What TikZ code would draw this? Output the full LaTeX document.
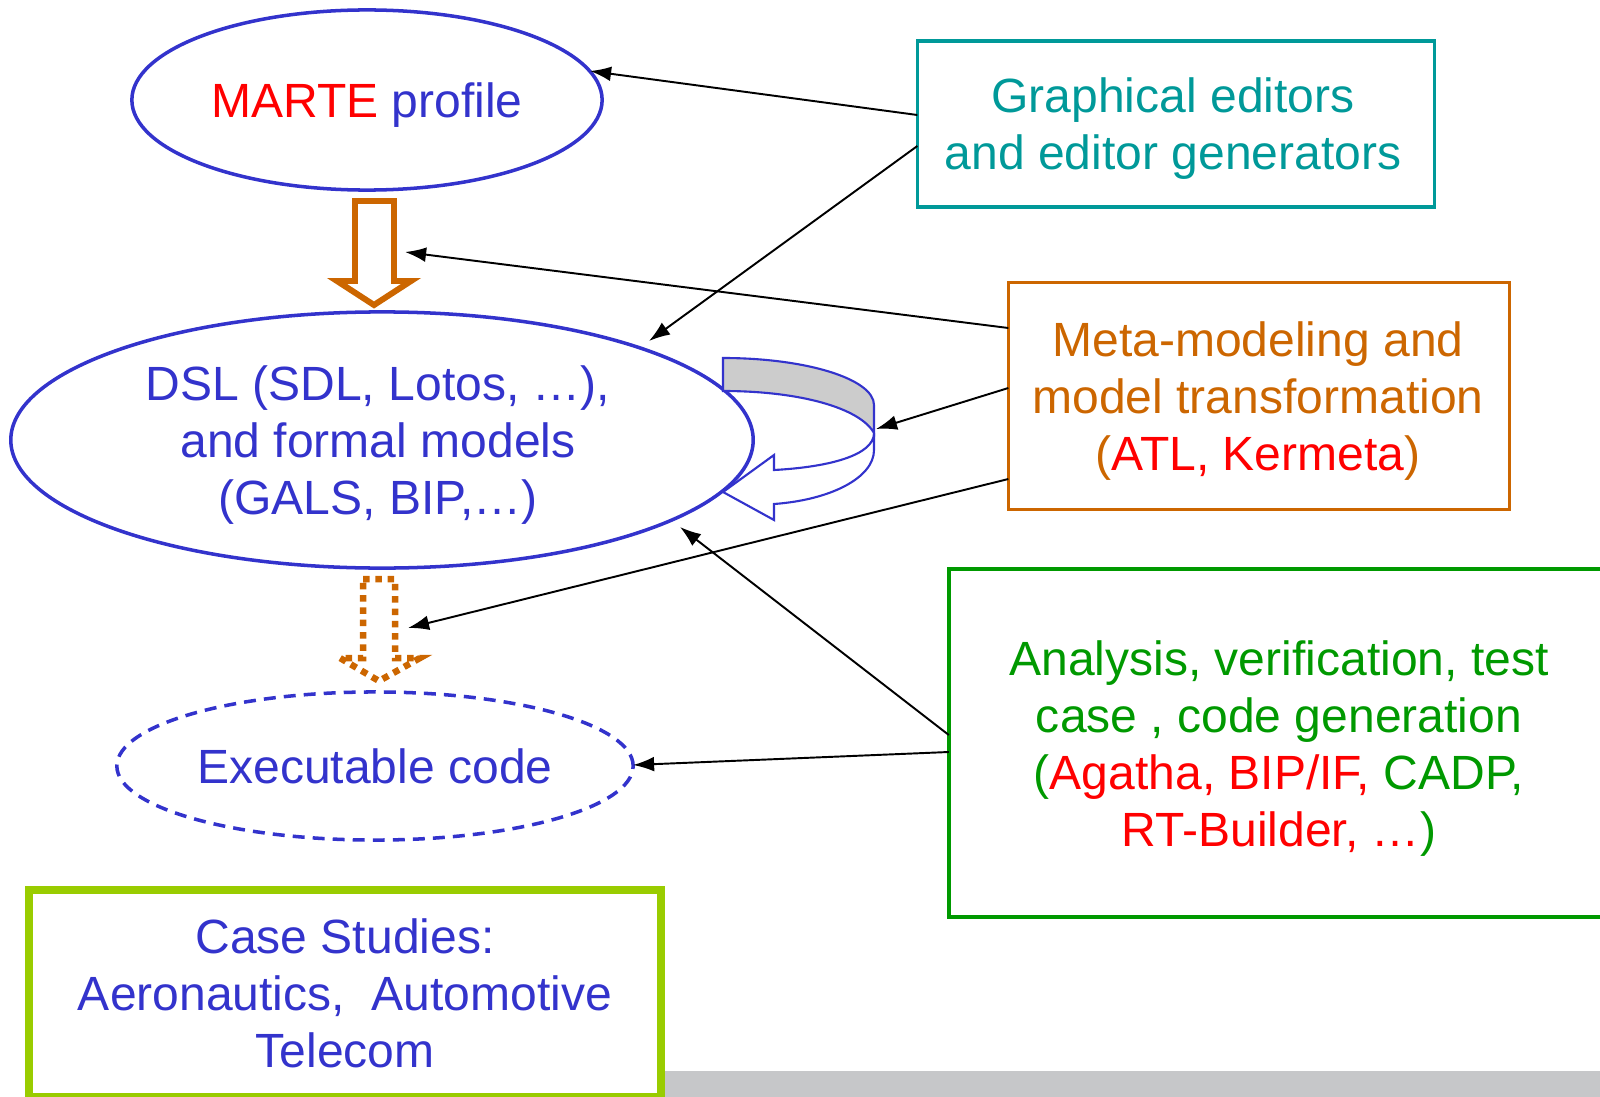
\documentclass[tikz,border=0pt]{standalone}
\usepackage{fontspec}
\setmainfont{Liberation Sans}
\usetikzlibrary{shapes.geometric,arrows.meta}
\definecolor{dslblue}{HTML}{3333CC}
\definecolor{hotred}{HTML}{FF0000}
\definecolor{tealc}{HTML}{009999}
\definecolor{rust}{HTML}{CC6600}
\definecolor{leaf}{HTML}{009900}
\definecolor{lime}{HTML}{99CC00}
\definecolor{bargrey}{HTML}{C6C7C9}
\definecolor{facegrey}{HTML}{CCCCCC}
\begin{document}
\begin{tikzpicture}[x=0.01cm,y=-0.01cm,
  txt/.style={font=\fontsize{13.66pt}{16.2pt}\selectfont, align=center, inner sep=0pt},
  oval/.style={ellipse, draw=dslblue, line width=1pt, inner sep=0pt, outer sep=0pt, txt, text=dslblue},
  frame/.style={rectangle, inner sep=0pt, outer sep=0pt, txt},
  conn/.style={draw=black, line width=0.55pt, -{Latex[length=6pt,width=4.2pt]}}]
\useasboundingbox (0,0) rectangle (1600,1097);
\clip (0,0) rectangle (1600,1097);

% footer strip
\fill[bargrey] (665,1071) rectangle (1600,1097);

% model ovals
\node[oval, minimum width=4.70cm, minimum height=1.80cm] (marte) at (367,100) {};
\node[txt, text=dslblue] (martetext) at (367,105) {\textcolor{hotred}{MARTE} profile};
\node[oval, minimum width=7.42cm, minimum height=2.56cm] (dsl) at (382,440) {};
\node[txt, text=dslblue] (dsltext) at (378,445)
  {DSL (SDL, Lotos, …),\\ and formal models\\ (GALS, BIP,…)};
\node[oval, dashed, dash pattern=on 3.4pt off 2.3pt, minimum width=5.16cm, minimum height=1.48cm] (exec) at (375,766)
  {Executable code};

% tool boxes
\node[frame, draw=tealc, line width=0.9pt, minimum width=5.17cm, minimum height=1.66cm] (graph) at (1176,124) {};
\node[txt, text=tealc] (graphtext) at (1173,129) {Graphical editors\\ and editor generators};
\node[frame, draw=rust, line width=0.9pt, minimum width=5.01cm, minimum height=2.27cm] (meta) at (1259,396) {};
\node[txt, text=rust] (metatext) at (1258,401)
  {Meta-modeling and\\ model transformation\\ (\textcolor{hotred}{ATL, Kermeta})};
\node[frame, draw=leaf, line width=1pt, minimum width=6.82cm, minimum height=3.48cm] (ana) at (1290,743) {};
\node[txt, text=leaf] (anatext) at (1279,749)
  {Analysis, verification, test\\ case , code generation\\
   (\textcolor{hotred}{Agatha, BIP/IF,} CADP,\\ \textcolor{hotred}{RT-Builder, …})};
\node[frame, draw=lime, line width=2.3pt, text=dslblue, minimum width=6.315cm, minimum height=2.07cm] (cases) at (345,993.5)
  {Case Studies:\\ Aeronautics,\ \ Automotive\\ Telecom};

% hollow refinement arrow MARTE -> DSL
\draw[rust, line width=1.7pt, fill=white]
  (355,201) -- (394,201) -- (394,281) -- (411,281) -- (374,305) -- (337,281) -- (355,281) -- cycle;
% dotted generation arrow DSL -> code
\draw[rust, line width=1.85pt, dash pattern=on 1.85pt off 1.65pt]
  (363,579) -- (395,579) -- (395,658) -- (420,658) -- (379,681) -- (340,658) -- (363,658) -- cycle;

% U-turn transformation arrow on the DSL oval
\draw[dslblue, line width=0.6pt, fill=white, line join=miter]
  (874,433) .. controls (874,455) and (830,467) .. (774,470) -- (774,455) -- (723,492)
  -- (774,520) -- (774,504) .. controls (830,500) and (874,478) .. (874,450) -- cycle;
\draw[dslblue, line width=0.6pt, fill=facegrey]
  (723,358) .. controls (806,358) and (874,379) .. (874,405) -- (874,433)
  .. controls (860,408) and (800,391) .. (723,391) -- cycle;

% connector end points
\coordinate (mA) at (590,71);
\coordinate (dA) at (649,341);
\coordinate (oA) at (405,252);
\coordinate (uA) at (876,429);
\coordinate (pA) at (408,628);
\coordinate (dB) at (680,527);
\coordinate (eA) at (633,765);

% connectors
\draw[conn] (graph.west |- 0,115) -- (mA);
\draw[conn] (graph.west |- 0,146) -- (dA);
\draw[conn] (meta.west |- 0,328) -- (oA);
\draw[conn] (meta.west |- 0,388) -- (uA);
\draw[conn] (meta.west |- 0,479) -- (pA);
\draw[conn] (ana.west |- 0,735) -- (dB);
\draw[conn] (ana.west |- 0,752) -- (eA);
\end{tikzpicture}
\end{document}
